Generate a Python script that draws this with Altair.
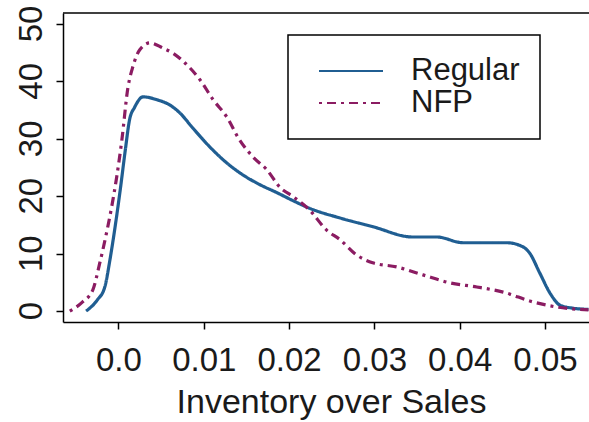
import altair as alt
import pandas as pd

# Density of inventory-over-sales ratio, two groups of firms
regular_x = [-0.0038, -0.0025, -0.0016, -0.0010, -0.0004, 0.0002, 0.0008, 0.0013, 0.0019,
             0.0029, 0.0045, 0.0060, 0.0072, 0.0087, 0.0107, 0.0127, 0.0146, 0.0166,
             0.0186, 0.0205, 0.0224, 0.0260, 0.0298, 0.0345, 0.0373, 0.0404, 0.0455,
             0.0474, 0.0482, 0.0494, 0.0506, 0.0518, 0.0533, 0.0551]
regular_y = [0.0, 1.9, 4.2, 8.9, 14.6, 21.0, 28.0, 33.3, 35.5,
             37.3, 36.8, 35.9, 34.5, 31.9, 28.6, 25.8, 23.7, 22.0,
             20.6, 19.2, 17.9, 16.2, 14.7, 12.9, 12.9, 11.9, 11.9,
             11.2, 10.1, 6.6, 3.1, 1.0, 0.5, 0.3]

nfp_x = [-0.0057, -0.0042, -0.0030, -0.0022, -0.0015, -0.0008, -0.0002, 0.0004, 0.0011,
         0.0017, 0.0025, 0.0037, 0.0052, 0.0064, 0.0078, 0.0096, 0.0111, 0.0127,
         0.0142, 0.0158, 0.0174, 0.0189, 0.0205, 0.0224, 0.0244, 0.0260, 0.0279,
         0.0298, 0.0326, 0.0357, 0.0389, 0.0420, 0.0451, 0.0486, 0.0514, 0.0551]
nfp_y = [0.0, 1.6, 3.7, 8.3, 12.9, 18.1, 23.4, 29.8, 38.8,
         42.6, 45.5, 46.7, 45.8, 44.9, 43.2, 40.2, 36.8, 33.8,
         29.8, 26.8, 24.6, 21.6, 19.9, 17.6, 14.1, 12.4, 9.8,
         8.4, 7.7, 6.3, 4.9, 4.2, 3.3, 1.6, 0.7, 0.2]

series_names = ["Regular", "NFP"]
series_colors = ["#205E92", "#8B1C62"]
series_dashes = [[1, 0], [3, 5, 9, 5]]

x_ticks = [0.0, 0.01, 0.02, 0.03, 0.04, 0.05]
y_ticks = [0, 10, 20, 30, 40, 50]

df = pd.concat([
    pd.DataFrame({"ratio": regular_x, "density": regular_y, "series": "Regular"}),
    pd.DataFrame({"ratio": nfp_x, "density": nfp_y, "series": "NFP"}),
], ignore_index=True)
ytick_df = pd.DataFrame({"density": y_ticks})

FONT = "Liberation Sans"
TEXT = "#1a1a1a"
W, H = 526, 309

y_scale = alt.Scale(domain=[-1.9, 51.9], nice=False, zero=False)
y_axis = alt.Axis(values=y_ticks, title=None, labels=False)

legend_spec = dict(
    orient="none", legendX=225, legendY=22, title=None,
    padding=20, strokeColor="black", fillColor="white",
    symbolType="stroke", symbolSize=4096, symbolStrokeWidth=2,
    symbolOffset=10, clipHeight=32, rowPadding=0,
    labelFont=FONT, labelFontSize=31, labelColor=TEXT, labelOffset=27,
)

lines = alt.Chart(df).mark_line(strokeWidth=3.2, interpolate="monotone", clip=True).encode(
    x=alt.X("ratio:Q",
            scale=alt.Scale(domain=[-0.0065, 0.05516], nice=False, zero=False),
            axis=alt.Axis(values=x_ticks, title="Inventory over Sales",
                          labelExpr="datum.value == 0 ? '0.0' : format(datum.value, '.2f')",
                          labelPadding=15, labelBaseline="top",
                          titleX=268, titleY=90, titleAlign="center",
                          titleBaseline="alphabetic")),
    y=alt.Y("density:Q", scale=y_scale, axis=y_axis),
    color=alt.Color("series:N", scale=alt.Scale(domain=series_names, range=series_colors),
                    legend=alt.Legend(**legend_spec)),
    strokeDash=alt.StrokeDash("series:N",
                              scale=alt.Scale(domain=series_names, range=series_dashes),
                              legend=alt.Legend(**legend_spec)),
)

# y tick labels, written sideways along the left axis
ylabels = alt.Chart(ytick_df).mark_text(
    angle=270, align="center", baseline="alphabetic",
    font=FONT, fontSize=33, color=TEXT
).encode(
    y=alt.Y("density:Q", scale=y_scale, axis=y_axis),
    x=alt.value(-21),
    text=alt.Text("density:Q", format="d"),
)

# top edge of the plot frame
frame_top = alt.Chart(alt.Data(values=[{}])).mark_rule(color="black", strokeWidth=1.5).encode(
    x=alt.value(0), x2=alt.value(W), y=alt.value(0)
)

chart = alt.layer(lines, ylabels, frame_top).properties(
    width=W, height=H,
    autosize=alt.AutoSizeParams(type="none"),
    padding={"left": 63, "top": 13, "right": 0, "bottom": 100},
    background="white",
).configure_view(stroke=None).configure_axis(
    grid=False, domainColor="black", domainWidth=1.5, tickColor="black",
    tickWidth=1.5, tickSize=7, labelFont=FONT, labelFontSize=33,
    labelColor=TEXT, titleFont=FONT, titleFontSize=34, titleColor=TEXT,
    titleFontWeight="normal", labelOverlap=False, labelFlush=False,
).configure_legend(strokeWidth=1.5)

chart.save("out.html", embed_options={"renderer": "svg", "actions": False})
